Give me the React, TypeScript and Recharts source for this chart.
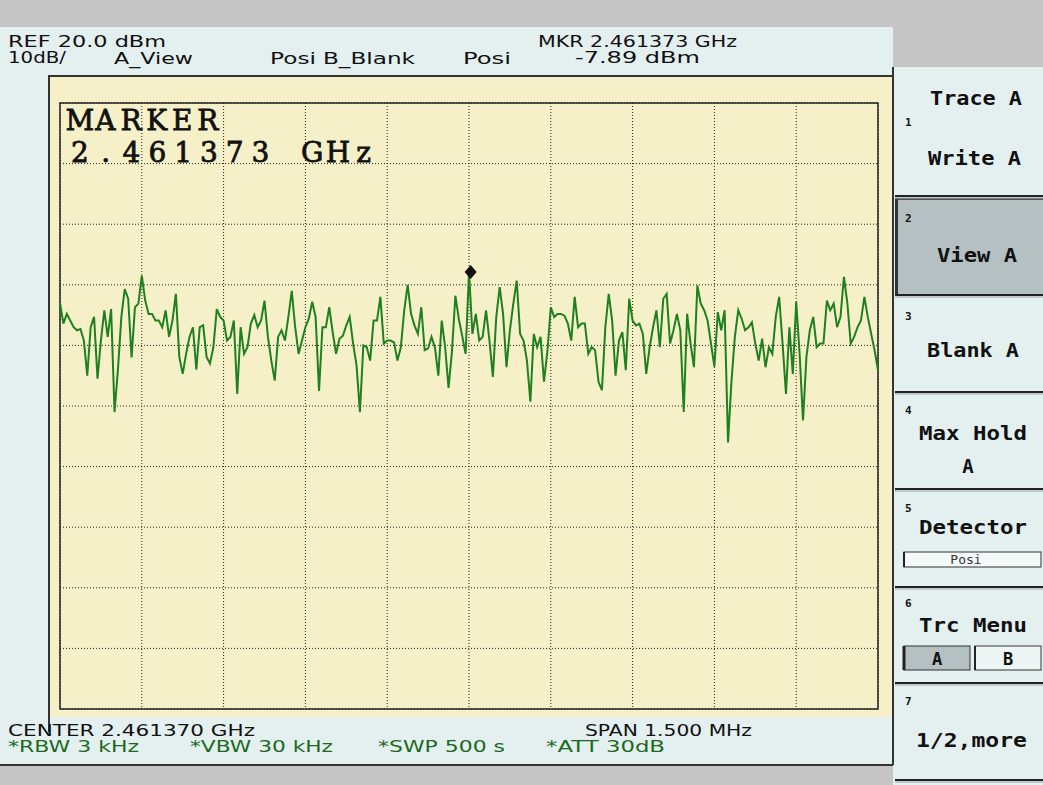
import React from "react";
import { LineChart, Line, XAxis, YAxis, CartesianGrid, ReferenceArea, ReferenceDot } from "recharts";

// sweep: center 2461.370 MHz, span 1.5 MHz, 241 points
const fStart = 2460.62;
const fStop = 2462.12;
const freqStep = 0.00625;

const freqTicks = [2460.62, 2460.77, 2460.92, 2461.07, 2461.22, 2461.37, 2461.52, 2461.67, 2461.82, 2461.97, 2462.12];
const levelTicks = [-80, -70, -60, -50, -40, -30, -20, -10, 0, 10, 20];

// trace A, dBm
const levels = [
  -13, -16.4, -14.8, -15.9, -17, -17.5, -17.3, -19.2, -25, -17,
  -15.3, -25.5, -19.2, -14.2, -18.6, -14, -31, -24, -15.3, -10.7,
  -12.3, -22, -13.7, -13.1, -8.5, -12.6, -14.8, -14.8, -15.9, -15.9,
  -17, -14.2, -18.6, -15.9, -11.5, -21.9, -24.7, -21.4, -18.6, -17,
  -24, -17, -16.7, -21.9, -23, -20.3, -14, -15.3, -15.9, -19.2,
  -18.6, -15.9, -28, -17, -21.4, -20.3, -16.4, -15, -17, -15.9,
  -12.6, -18.6, -22.5, -25.8, -18.6, -17.5, -19.2, -15.3, -11, -17,
  -21.4, -19.2, -17, -15.6, -12.8, -15.3, -27.5, -17, -17, -13.7,
  -17.8, -21.4, -18.9, -18.4, -16.7, -15.3, -19.7, -23.3, -31, -20,
  -20.3, -22.5, -15.9, -15.9, -12, -19.7, -19.2, -19.2, -19.5, -22.5,
  -20.3, -14.2, -10, -14.8, -16.7, -18.1, -13.7, -20.8, -20.5, -18.6,
  -20.3, -25, -15.9, -20.3, -27, -21, -11.8, -15.6, -18.4, -21.4,
  -7.9, -18.1, -14.8, -19.2, -18.6, -14.2, -19.2, -25.2, -15.3, -10.4,
  -14.8, -23.6, -17.5, -13.1, -9.3, -18.1, -19.2, -22.5, -29.3, -18.1,
  -20.3, -18.6, -26, -21, -13.7, -15.3, -14.8, -14.8, -15.1, -16.4,
  -19.2, -12, -17, -16.4, -16.4, -21.4, -20.3, -20.8, -26, -27.4,
  -17, -11.5, -15.9, -25, -19.2, -17.8, -24.1, -12.3, -15.9, -16.7,
  -16.4, -18.1, -24.7, -20.3, -17, -14.2, -20.3, -12.3, -11.5, -19.7,
  -17.5, -14.8, -17.5, -31, -14.8, -19.7, -23.6, -10.1, -13.1, -14.2,
  -15.9, -19.7, -23.5, -14.5, -17.5, -14.2, -36, -26, -18.6, -14.2,
  -15.6, -17.5, -17, -16.2, -19.7, -22.5, -18.9, -23.6, -20.3, -21.4,
  -15.3, -12, -19.7, -28, -17, -24.7, -12.8, -21.4, -32.4, -21.9,
  -17.5, -15.3, -20.3, -19.7, -19.7, -12.6, -14.2, -13.1, -17, -15.3,
  -8.7, -13, -19.7, -18.6, -17, -15.9, -12, -15.3, -18.1, -20.8,
  -24.1,
];

const markerFreq = 2461.373;
const markerLevel = -7.89;

const trace = levels.map((level, i) => ({ freq: fStart + i * freqStep, level }));

const W = 1043;
const H = 785;
const gray = "#c5c5c5";
const panel = "#e4f0f0";
const yellow = "#f5f0c8";
const keyHi = "#b4c0c2";
const dark = "#222";

function T({ x, y, len, size = 15.5, fill = "#111", bold = false, mono = false, anchor = "start", children }: any) {
  return (
    <text
      x={x}
      y={y}
      textLength={len}
      lengthAdjust={len ? "spacingAndGlyphs" : undefined}
      fontSize={size}
      fill={fill}
      fontWeight={bold ? 700 : 400}
      fontFamily={mono ? "'DejaVu Sans Mono', monospace" : "'DejaVu Sans', sans-serif"}
      textAnchor={anchor}
    >
      {children}
    </text>
  );
}

// fixed-pitch serif text, like the analyzer's big marker readout
function Pitch({ x, y, pitch, text }: { x: number; y: number; pitch: number; text: string }) {
  return (
    <text fontSize={28} fontFamily="'DejaVu Serif', serif" fill="#111" stroke="#111" strokeWidth={0.8} textAnchor="middle">
      {text.split("").map((c, i) => (
        <tspan key={i} x={x + pitch * (i + 0.5)} y={y}>
          {c === " " ? "\u00a0" : c}
        </tspan>
      ))}
    </text>
  );
}

const Diamond = (props: any) => {
  const { cx, cy } = props;
  return <path d={`M${cx} ${cy - 7} L${cx + 6} ${cy} L${cx} ${cy + 7} L${cx - 6} ${cy} Z`} fill="#111" />;
};

const seps = [196, 295, 392, 489, 587, 683, 780];

export default function App() {
  return (
    <div style={{ position: "absolute", left: 0, top: 0, width: W, height: H, background: panel, overflow: "hidden" }}>
      <div style={{ position: "absolute", left: 0, top: 0, width: W, height: 27, background: gray }} />
      <div style={{ position: "absolute", left: 893, top: 0, width: 150, height: 67, background: gray }} />
      <div style={{ position: "absolute", left: 0, top: 764, width: 893, height: 21, background: gray, borderTop: "2px solid #333" }} />
      <div style={{ position: "absolute", left: 49, top: 75, width: 844, height: 640, background: yellow, borderTop: "2px solid #333" }} />
      <div style={{ position: "absolute", left: 48, top: 75, width: 2, height: 657, background: "#333" }} />
      <div style={{ position: "absolute", left: 892, top: 67, width: 2, height: 698, background: "#333" }} />
      <div style={{ position: "absolute", left: 895, top: 198, width: 148, height: 96, background: keyHi, borderLeft: "3px solid #333", borderTop: "2px solid #555" }} />

      <div style={{ position: "absolute", left: 0, top: 0 }}>
        <LineChart width={W} height={H} data={trace} margin={{ top: 103, right: 165, bottom: 76, left: 60 }}>
          <CartesianGrid stroke="#222" strokeDasharray="1 2" />
          <XAxis
            dataKey="freq"
            type="number"
            domain={[fStart, fStop]}
            ticks={freqTicks}
            height={0}
            mirror
            axisLine={false}
            tickSize={5}
            tickLine={{ stroke: "#222" }}
            tickFormatter={() => ""}
          />
          <YAxis
            type="number"
            domain={[-80, 20]}
            ticks={levelTicks}
            width={0}
            axisLine={false}
            tickLine={false}
            tickFormatter={() => ""}
          />
          <ReferenceArea x1={fStart} x2={fStop} y1={-80} y2={20} fill="none" fillOpacity={0} stroke="#222" strokeWidth={1.5} />
          <Line dataKey="level" type="linear" stroke="#1f801f" strokeWidth={2} dot={false} isAnimationActive={false} />
          <ReferenceDot x={markerFreq} y={markerLevel} shape={Diamond} />
        </LineChart>
      </div>

      <svg width={W} height={H} style={{ position: "absolute", left: 0, top: 0, pointerEvents: "none" }}>
        <T x={8} y={47} len={158}>REF 20.0 dBm</T>
        <T x={8} y={63} len={58}>10dB/</T>
        <T x={114} y={64} len={79}>A_View</T>
        <T x={270} y={64} len={46}>Posi</T>
        <T x={323} y={64} len={92}>B_Blank</T>
        <T x={463} y={64} len={48}>Posi</T>
        <T x={538} y={47} len={199}>MKR 2.461373 GHz</T>
        <T x={575} y={63} len={125}>-7.89 dBm</T>

        <Pitch x={67} y={130} pitch={25.6} text="MARKER" />
        <Pitch x={67} y={162} pitch={25.8} text="2.461373 GHz" />

        <T x={8} y={736} len={247}>CENTER 2.461370 GHz</T>
        <T x={585} y={736} len={167}>SPAN 1.500 MHz</T>
        <T x={8} y={752} len={131} fill="#1c6a1c">*RBW 3 kHz</T>
        <T x={190} y={752} len={143} fill="#1c6a1c">*VBW 30 kHz</T>
        <T x={378} y={752} len={127} fill="#1c6a1c">*SWP 500 s</T>
        <T x={546} y={752} len={119} fill="#1c6a1c">*ATT 30dB</T>

        {seps.map((y) => (
          <g key={y}>
            <line x1={895} x2={W} y1={y} y2={y} stroke={dark} strokeWidth={2} />
            <line x1={895} x2={W} y1={y + 2} y2={y + 2} stroke="#9aa4a4" strokeWidth={1} />
          </g>
        ))}

        <T x={930} y={105} len={92} size={19} bold mono>Trace A</T>
        <T x={905} y={126} size={11} bold mono>1</T>
        <T x={928} y={165} len={93} size={19} bold mono>Write A</T>
        <T x={905} y={222} size={11} bold mono>2</T>
        <T x={937} y={262} len={80} size={19} bold mono>View A</T>
        <T x={905} y={320} size={11} bold mono>3</T>
        <T x={927} y={357} len={92} size={19} bold mono>Blank A</T>
        <T x={905} y={414} size={11} bold mono>4</T>
        <T x={919} y={440} len={108} size={19} bold mono>Max Hold</T>
        <T x={968} y={473} size={19} bold mono anchor="middle">A</T>
        <T x={905} y={512} size={11} bold mono>5</T>
        <T x={919} y={534} len={108} size={19} bold mono>Detector</T>
        <rect x={904} y={552} width={137} height={15} fill="#f3f8f8" stroke="#333" strokeWidth={1} />
        <line x1={904} x2={904} y1={552} y2={567} stroke="#222" strokeWidth={2} />
        <T x={966} y={564} size={13} mono anchor="middle" fill="#333">Posi</T>
        <T x={905} y={607} size={11} bold mono>6</T>
        <T x={919} y={632} len={108} size={19} bold mono>Trc Menu</T>
        <rect x={904} y={646} width={66} height={24} fill={keyHi} stroke="#333" strokeWidth={1} />
        <line x1={904} x2={904} y1={646} y2={670} stroke="#222" strokeWidth={3} />
        <rect x={975} y={646} width={66} height={24} fill="#eef5f5" stroke="#333" strokeWidth={1} />
        <line x1={975} x2={975} y1={646} y2={670} stroke="#222" strokeWidth={2} />
        <T x={937} y={665} size={17} bold mono anchor="middle">A</T>
        <T x={1008} y={665} size={17} bold mono anchor="middle">B</T>
        <T x={905} y={705} size={11} bold mono>7</T>
        <T x={916} y={747} len={111} size={19} bold mono>1/2,more</T>
      </svg>
    </div>
  );
}
